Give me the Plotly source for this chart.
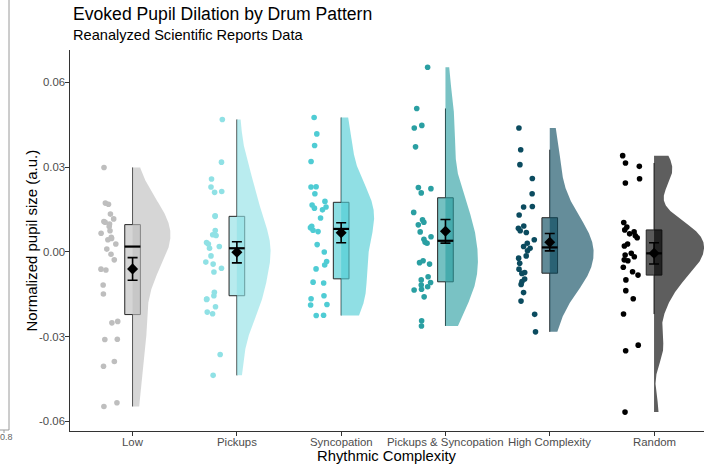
import numpy as np
import plotly.graph_objects as go

# ---- data -------------------------------------------------------------
categories = ["Low", "Pickups", "Syncopation", "Pickups & Syncopation",
              "High Complexity", "Random"]

low = [0.0299, 0.0173, 0.0169, 0.0134, 0.0117, 0.0108, 0.0105, 0.0099, 0.0090,
       0.0075, 0.0066, 0.0052, 0.0048, 0.0043, 0.0028, 0.0010, -0.0008, -0.0028,
       -0.0061, -0.0064, -0.0117, -0.0149, -0.0246, -0.0251, -0.0309, -0.0310,
       -0.0388, -0.0405, -0.0534, -0.0547]
pickups = [0.0469, 0.0318, 0.0258, 0.0230, 0.0214, 0.0211, 0.0128, 0.0126,
           0.0076, 0.0061, 0.0058, 0.0033, 0.0028, 0.0019, 0.0013, -0.0014,
           -0.0036, -0.0043, -0.0058, -0.0071, -0.0143, -0.0155, -0.0167,
           -0.0168, -0.0194, -0.0213, -0.0219, -0.0363, -0.0437]
syncopation = [0.0476, 0.0418, 0.0377, 0.0320, 0.0231, 0.0230, 0.0206, 0.0179,
               0.0166, 0.0159, 0.0155, 0.0149, 0.0120, 0.0091, 0.0086, 0.0077,
               0.0072, 0.0026, 0.0000, -0.0034, -0.0046, -0.0060, -0.0107,
               -0.0110, -0.0155, -0.0166, -0.0186, -0.0188, -0.0224, -0.0225]
pickups_syncopation = [0.0654, 0.0508, 0.0448, 0.0439, 0.0372, 0.0228, 0.0224,
                       0.0209, 0.0140, 0.0114, 0.0105, 0.0096, 0.0071, 0.0054,
                       0.0045, 0.0034, 0.0031, -0.0031, -0.0038, -0.0043,
                       -0.0088, -0.0099, -0.0108, -0.0117, -0.0123, -0.0132,
                       -0.0135, -0.0159, -0.0244, -0.0262]
high_complexity = [0.0439, 0.0362, 0.0309, 0.0260, 0.0206, 0.0161, 0.0159,
                   0.0131, 0.0092, 0.0084, 0.0075, 0.0069, 0.0043, 0.0031,
                   0.0019, 0.0013, 0.0004, -0.0014, -0.0022, -0.0040, -0.0061,
                   -0.0073, -0.0076, -0.0096, -0.0105, -0.0115, -0.0144,
                   -0.0174, -0.0221, -0.0283]
random_pattern = [0.0341, 0.0315, 0.0303, 0.0259, 0.0244, 0.0104, 0.0088,
                  0.0078, 0.0071, 0.0064, 0.0057, 0.0050, 0.0028, 0.0021,
                  -0.0005, -0.0011, -0.0017, -0.0028, -0.0031, -0.0054,
                  -0.0070, -0.0082, -0.0099, -0.0137, -0.0166, -0.0220,
                  -0.0330, -0.0350, -0.0567]

groups = [low, pickups, syncopation, pickups_syncopation, high_complexity,
          random_pattern]

y_tickvals = [-0.06, -0.03, 0.0, 0.03, 0.06]
y_ticktext = ["-0.06", "-0.03", "0.00", "0.03", "0.06"]

# ---- styling ----------------------------------------------------------
point_colors = ["#BEBEBE", "#90E1E5", "#4FCCD4", "#2A9FA2", "#0B4B5F", "#000000"]
VIOLIN_ALPHA = 0.63
BOX_ALPHA = 0.65
VIOLIN_HALF_WIDTH = 0.48
FONT = "Liberation Sans, Arial, sans-serif"
TICK_FONT = dict(family=FONT, size=11.4, color="#4D4D4D")

X_RANGE = [0.4, 6.479]
Y_RANGE = [-0.0634, 0.0715]
W, H = 704, 467
ML, MR, MT, MB = 70, 0, 50, 36


def rgba(hex_color, a):
    h = hex_color.lstrip("#")
    r, g, b = int(h[0:2], 16), int(h[2:4], 16), int(h[4:6], 16)
    return f"rgba({r},{g},{b},{a})"


def bw_nrd0(v):
    sd = np.std(v, ddof=1)
    q75, q25 = np.percentile(v, [75, 25])
    return 0.9 * min(sd, (q75 - q25) / 1.34) * len(v) ** -0.2


def kde(v, n=512):
    v = np.asarray(v, dtype=float)
    bw = bw_nrd0(v)
    grid = np.linspace(v.min(), v.max(), n)
    z = (grid[:, None] - v[None, :]) / bw
    dens = np.exp(-0.5 * z ** 2).sum(axis=1) / (len(v) * bw * np.sqrt(2 * np.pi))
    return grid, dens


def box_stats(v):
    v = np.sort(np.asarray(v, dtype=float))
    q1, med, q3 = np.percentile(v, [25, 50, 75])
    iqr = q3 - q1
    lo = v[v >= q1 - 1.5 * iqr].min()
    hi = v[v <= q3 + 1.5 * iqr].max()
    return q1, med, q3, lo, hi


def jitter(n, k):
    # deterministic hash-style spread of the dots around their column
    i = np.arange(n)
    u = np.abs(np.sin(i * 12.9898 + k * 78.233) * 43758.5453) % 1.0
    return (u - 0.5) * 2 * 0.085


fig = go.Figure()

# half violins, all scaled by one common factor (equal enclosed area)
densities = [kde(g) for g in groups]
peak = max(d.max() for _, d in densities)
for k, ((grid, dens), col) in enumerate(zip(densities, point_colors), start=1):
    half = VIOLIN_HALF_WIDTH * dens / peak
    xs = np.concatenate([k + half, np.full(len(grid), k)])
    ys = np.concatenate([grid, grid[::-1]])
    fig.add_trace(go.Scatter(
        x=xs, y=ys, mode="lines", fill="toself",
        fillcolor=rgba(col, VIOLIN_ALPHA), line=dict(width=0),
        hoverinfo="skip", showlegend=False))

# jittered raw observations to the left
for k, (vals, col) in enumerate(zip(groups, point_colors), start=1):
    xs = k - 0.22 + jitter(len(vals), k)
    fig.add_trace(go.Scatter(
        x=xs, y=vals, mode="markers",
        marker=dict(size=5.6, color=col, line=dict(width=0)),
        showlegend=False, hoverinfo="y"))

# narrow boxplots
for k, (vals, col) in enumerate(zip(groups, point_colors), start=1):
    q1, med, q3, lo, hi = box_stats(vals)
    fig.add_trace(go.Box(
        x=[k], q1=[q1], median=[med], q3=[q3],
        lowerfence=[lo], upperfence=[hi],
        width=0.15, whiskerwidth=0, boxpoints=False,
        fillcolor=rgba(col, BOX_ALPHA),
        line=dict(color="#262626", width=1),
        showlegend=False, hoverinfo="skip"))
    fig.add_trace(go.Scatter(
        x=[k - 0.075, k + 0.075], y=[med, med], mode="lines",
        line=dict(color="#000000", width=2.2),
        showlegend=False, hoverinfo="skip"))

# mean +/- standard error
for k, vals in enumerate(groups, start=1):
    v = np.asarray(vals, dtype=float)
    m = v.mean()
    se = v.std(ddof=1) / np.sqrt(len(v))
    fig.add_trace(go.Scatter(
        x=[k], y=[m], mode="markers",
        marker=dict(symbol="diamond", size=8.5, color="#000000"),
        error_y=dict(type="data", array=[se], color="#000000",
                     thickness=1.6, width=5),
        showlegend=False, hoverinfo="skip"))

pw = W - ML - MR
ph = H - MT - MB


def px_x(p):
    return (p - ML) / pw


def px_y(p):
    return (H - MB - p) / ph


annotations = [
    dict(text="Evoked Pupil Dilation by Drum Pattern", x=px_x(71), y=px_y(14),
         xref="paper", yref="paper", xanchor="left", yanchor="middle",
         showarrow=False, font=dict(family=FONT, size=17.6, color="#000000")),
    dict(text="Reanalyzed Scientific Reports Data", x=px_x(71), y=px_y(35),
         xref="paper", yref="paper", xanchor="left", yanchor="middle",
         showarrow=False, font=dict(family=FONT, size=14.6, color="#000000")),
    dict(text="Normalized pupil size (a.u.)", x=px_x(31), y=0.5,
         xref="paper", yref="paper", xanchor="center", yanchor="middle",
         textangle=-90, showarrow=False,
         font=dict(family=FONT, size=15, color="#000000")),
    dict(text="Rhythmic Complexity", x=0.5, y=px_y(456),
         xref="paper", yref="paper", xanchor="center", yanchor="middle",
         showarrow=False, font=dict(family=FONT, size=14.8, color="#000000")),
    dict(text="0.8", x=px_x(6), y=px_y(437),
         xref="paper", yref="paper", xanchor="center", yanchor="middle",
         showarrow=False, font=dict(family=FONT, size=9, color="#666666")),
]

# category tick labels sit just under the axis ticks
for k, name in enumerate(categories, start=1):
    annotations.append(dict(
        text=name, x=k, y=px_y(441.5), xref="x", yref="paper",
        xanchor="center", yanchor="middle", showarrow=False,
        font=TICK_FONT))

# value tick labels just left of the y-axis ticks
for val, lab in zip(y_tickvals, y_ticktext):
    annotations.append(dict(
        text=lab, x=px_x(66.5), y=val, xref="paper", yref="y",
        xanchor="right", yanchor="middle", showarrow=False,
        font=TICK_FONT))

shapes = [
    dict(type="line", xref="paper", yref="paper",
         x0=px_x(9), x1=px_x(9), y0=px_y(0), y1=px_y(430),
         line=dict(color="#9a9a9a", width=1)),
    dict(type="line", xref="paper", yref="paper",
         x0=px_x(0), x1=px_x(9), y0=px_y(430), y1=px_y(430),
         line=dict(color="#9a9a9a", width=1)),
    dict(type="line", xref="paper", yref="paper",
         x0=px_x(4), x1=px_x(4), y0=px_y(430), y1=px_y(433),
         line=dict(color="#9a9a9a", width=1)),
]

axis_common = dict(showline=True, linecolor="#333333", linewidth=1.3,
                   ticks="outside", ticklen=4, tickwidth=1,
                   tickcolor="#333333", showgrid=False, zeroline=False,
                   showticklabels=False)

fig.update_layout(
    width=W, height=H,
    margin=dict(l=ML, r=MR, t=MT, b=MB, pad=0),
    paper_bgcolor="#FFFFFF", plot_bgcolor="#FFFFFF",
    showlegend=False, boxmode="overlay",
    font=dict(family=FONT),
    xaxis=dict(range=X_RANGE, tickmode="array", tickvals=list(range(1, 7)),
               **axis_common),
    yaxis=dict(range=Y_RANGE, tickmode="array", tickvals=y_tickvals,
               **axis_common),
    annotations=annotations,
    shapes=shapes,
)

fig.write_html("out.html")
